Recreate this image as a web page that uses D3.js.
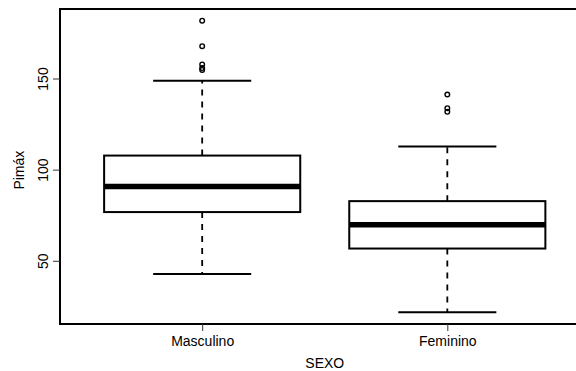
<!DOCTYPE html>
<html>
<head>
<meta charset="utf-8">
<script src="https://cdn.jsdelivr.net/npm/d3@7"></script>
<style>
  body { margin: 0; background: #fff; }
  svg { display: block; font-family: "Liberation Sans", Arial, sans-serif; }
</style>
</head>
<body>
<svg></svg>
<script>
var screen = {width: 576, height: 371}
var margins = {top: 9, left: 60, bottom: 47}
var fontSize = 14

// data
var groups = ["Masculino", "Feminino"]
var lowerWhisker = [43, 22]
var q1 = [77, 57]
var medians = [91, 70]
var q3 = [108, 83]
var upperWhisker = [149, 113]
var outliers = [[182, 168, 158, 156, 155], [141.5, 134, 132]]
var yTicks = [50, 100, 150]

var svg = d3.select("svg")
    .attr("width", screen.width)
    .attr("height", screen.height)

var bottom = screen.height - margins.bottom

// R style: xlim 0.5..2.5 extended by 4%
var xScale = d3.scaleLinear()
    .domain([0.42, 2.58])
    .range([margins.left, margins.left + 529.5])

var yScale = d3.scaleLinear()
    .domain([15.6, 188.4])
    .range([bottom, margins.top])

var boxHalf = 0.4, capHalf = 0.2

var boxes = svg.selectAll("g.box")
    .data(groups)
    .enter()
    .append("g")
    .classed("box", true)

// dashed whiskers
boxes.append("line")
    .attr("x1", function(d, i) { return xScale(i + 1) })
    .attr("x2", function(d, i) { return xScale(i + 1) })
    .attr("y1", function(d, i) { return yScale(q3[i]) })
    .attr("y2", function(d, i) { return yScale(upperWhisker[i]) })
    .attr("stroke", "#000").attr("stroke-width", 1.8).attr("stroke-dasharray", "6,6")
boxes.append("line")
    .attr("x1", function(d, i) { return xScale(i + 1) })
    .attr("x2", function(d, i) { return xScale(i + 1) })
    .attr("y1", function(d, i) { return yScale(q1[i]) })
    .attr("y2", function(d, i) { return yScale(lowerWhisker[i]) })
    .attr("stroke", "#000").attr("stroke-width", 1.8).attr("stroke-dasharray", "6,6")

// caps
boxes.append("line")
    .attr("x1", function(d, i) { return xScale(i + 1 - capHalf) })
    .attr("x2", function(d, i) { return xScale(i + 1 + capHalf) })
    .attr("y1", function(d, i) { return yScale(upperWhisker[i]) })
    .attr("y2", function(d, i) { return yScale(upperWhisker[i]) })
    .attr("stroke", "#000").attr("stroke-width", 2)
boxes.append("line")
    .attr("x1", function(d, i) { return xScale(i + 1 - capHalf) })
    .attr("x2", function(d, i) { return xScale(i + 1 + capHalf) })
    .attr("y1", function(d, i) { return yScale(lowerWhisker[i]) })
    .attr("y2", function(d, i) { return yScale(lowerWhisker[i]) })
    .attr("stroke", "#000").attr("stroke-width", 2)

// box
boxes.append("rect")
    .attr("x", function(d, i) { return xScale(i + 1 - boxHalf) })
    .attr("width", function(d, i) { return xScale(i + 1 + boxHalf) - xScale(i + 1 - boxHalf) })
    .attr("y", function(d, i) { return yScale(q3[i]) })
    .attr("height", function(d, i) { return yScale(q1[i]) - yScale(q3[i]) })
    .attr("fill", "#fff").attr("stroke", "#000").attr("stroke-width", 2)

// median
boxes.append("line")
    .attr("x1", function(d, i) { return xScale(i + 1 - boxHalf) })
    .attr("x2", function(d, i) { return xScale(i + 1 + boxHalf) })
    .attr("y1", function(d, i) { return yScale(medians[i]) })
    .attr("y2", function(d, i) { return yScale(medians[i]) })
    .attr("stroke", "#000").attr("stroke-width", 5.5)

// outliers
boxes.each(function(d, i) {
    d3.select(this).selectAll("circle")
        .data(outliers[i])
        .enter()
        .append("circle")
        .attr("cx", xScale(i + 1))
        .attr("cy", function(v) { return yScale(v) })
        .attr("r", 2.3)
        .attr("fill", "none").attr("stroke", "#000").attr("stroke-width", 1.4)
})

// frame
svg.append("rect")
    .attr("x", margins.left).attr("y", margins.top)
    .attr("width", xScale(2.58) - margins.left)
    .attr("height", bottom - margins.top)
    .attr("fill", "none").attr("stroke", "#000").attr("stroke-width", 2)

// y axis (labels rotated, like R's las=0)
var yAxis = d3.axisLeft(yScale).tickValues(yTicks).tickSize(7)
var yg = svg.append("g")
    .attr("transform", "translate(" + margins.left + ",0)")
    .call(yAxis)
yg.select(".domain").remove()
yg.selectAll(".tick").attr("transform", null)
yg.selectAll(".tick line")
    .attr("stroke", "#333")
    .attr("y1", function(v) { return yScale(v) })
    .attr("y2", function(v) { return yScale(v) })
yg.selectAll(".tick text")
    .attr("font-size", fontSize).attr("fill", "#000")
    .attr("text-anchor", "middle")
    .attr("dy", 0)
    .attr("transform", "rotate(-90)")
    .attr("x", function(v) { return -yScale(v) })
    .attr("y", -12)

// x axis
var xAxis = d3.axisBottom(xScale).tickValues([1, 2]).tickSize(7).tickPadding(5)
    .tickFormat(function(v) { return groups[v - 1] })
var xg = svg.append("g")
    .attr("transform", "translate(0," + bottom + ")")
    .call(xAxis)
xg.select(".domain").remove()
xg.selectAll(".tick line").attr("stroke", "#333")
xg.selectAll(".tick text").attr("font-size", fontSize).attr("fill", "#000")

// axis titles
svg.append("text")
    .attr("x", xScale(1.5)).attr("y", 368)
    .attr("text-anchor", "middle").attr("font-size", fontSize)
    .text("SEXO")
svg.append("text")
    .attr("transform", "translate(24," + yScale(100) + ") rotate(-90)")
    .attr("text-anchor", "middle").attr("font-size", fontSize)
    .text("Pimáx")
</script>
</body>
</html>
